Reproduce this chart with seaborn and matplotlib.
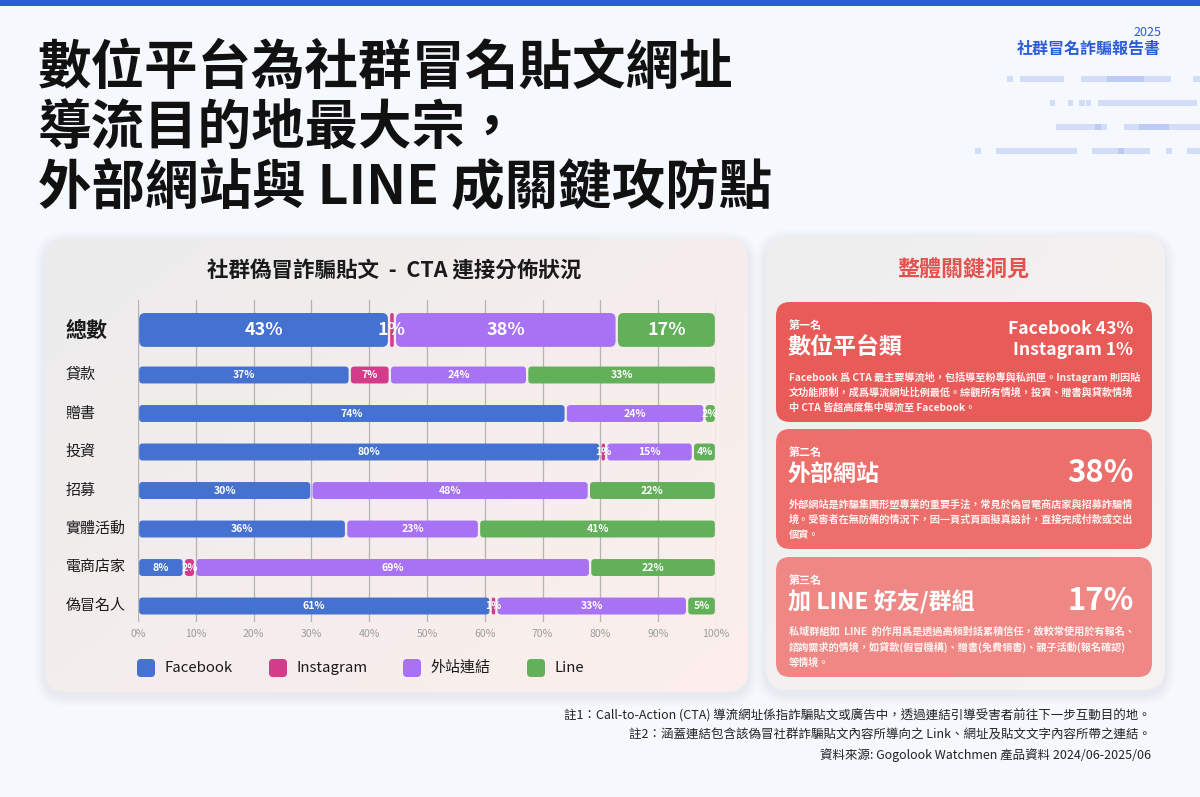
import numpy as np
import pandas as pd
import matplotlib
matplotlib.use("Agg")
import matplotlib.pyplot as plt
import seaborn as sns
from matplotlib.patches import FancyBboxPatch, Rectangle

# ---------------- data ----------------
categories = ["總數", "貸款", "贈書", "投資", "招募", "實體活動", "電商店家", "偽冒名人"]
facebook = [43, 37, 74, 80, 30, 36, 8, 61]
instagram = [1, 7, 0, 1, 0, 0, 2, 1]
external = [38, 24, 24, 15, 48, 23, 69, 33]
line_vals = [17, 33, 2, 4, 22, 41, 22, 5]
series_names = ["Facebook", "Instagram", "外站連結", "Line"]
series_colors = ["#4571d1", "#d33c8a", "#a872f5", "#63b05b"]
x_ticks = [0, 10, 20, 30, 40, 50, 60, 70, 80, 90, 100]
x_tick_labels = [f"{t}%" for t in x_ticks]

title_lines = ["數位平台為社群冒名貼文網址", "導流目的地最大宗，", "外部網站與 LINE 成關鍵攻防點"]
chart_title = "社群偽冒詐騙貼文  -  CTA 連接分佈狀況"
panel_title = "整體關鍵洞見"
cards = [
    dict(rank="第一名", head="數位平台類", right=["Facebook 43%", "Instagram 1%"],
         body=["Facebook 爲 CTA 最主要導流地，包括導至粉專與私訊匣。Instagram 則因貼",
               "文功能限制，成爲導流網址比例最低。綜觀所有情境，投資、贈書與貸款情境",
               "中 CTA 皆超高度集中導流至 Facebook。"]),
    dict(rank="第二名", head="外部網站", right=["38%"],
         body=["外部網站是詐騙集團形塑專業的重要手法，常見於偽冒電商店家與招募詐騙情",
               "境。受害者在無防備的情況下，因一頁式頁面擬真設計，直接完成付款或交出",
               "個資。"]),
    dict(rank="第三名", head="加 LINE 好友/群組", right=["17%"],
         body=["私域群組如  LINE  的作用爲是透過高頻對話累積信任，故較常使用於有報名、",
               "諮詢需求的情境，如貸款(假冒機構)、贈書(免費領書)、親子活動(報名確認)",
               "等情境。"]),
]
card_colors = ["#e95b58", "#ec6f6b", "#ef8884"]
notes = ["註1：Call-to-Action (CTA) 導流網址係指詐騙貼文或廣告中，透過連結引導受害者前往下一步互動目的地。",
         "註2：涵蓋連結包含該偽冒社群詐騙貼文內容所導向之 Link、網址及貼文文字內容所帶之連結。",
         "資料來源: Gogolook Watchmen 產品資料 2024/06-2025/06"]

# ---------------- style ----------------
sns.set_theme(style="white")
plt.rcParams["font.family"] = ["Noto Sans CJK TC", "DejaVu Sans"]

W, H = 1200, 797
fig = plt.figure(figsize=(12, 7.97), dpi=100)
fig.patch.set_facecolor("#f5f8fd")
bg = fig.add_axes([0, 0, 1, 1], zorder=0)
bg.set_xlim(0, W)
bg.set_ylim(H, 0)
bg.axis("off")

def px(v):
    return v / 1.389

# top bar
bg.add_patch(Rectangle((0, 0), W, 6, color="#2a5bd8", lw=0))

# title
for i, t in enumerate(title_lines):
    bg.text(38, 68 + 60 * i, t, fontsize=px(53.5), weight="black", color="#111111",
            ha="left", va="center")

bg.text(1161, 32, "2025", fontsize=px(12.5), color="#2a5bd8", ha="right", va="center")
bg.text(1161, 49, "社群冒名詐騙報告書", fontsize=px(16), color="#2a5bd8", weight="bold",
        ha="right", va="center")

# decorative dashes
dash_rows = {
    79: [(1007, 1013), (1020, 1064), (1081, 1171), (1193, 1200)],
    103: [(1050, 1055), (1068, 1073), (1079, 1085), (1086, 1091), (1098, 1197)],
    127: [(1056, 1107), (1124, 1200)],
    151: [(975, 981), (996, 1077), (1092, 1150), (1166, 1172), (1187, 1200)],
}
dark_dashes = {79: [(1107, 1144)], 127: [(1095, 1101), (1139, 1169)], 151: [(1118, 1124)]}
for y, segs in dash_rows.items():
    for a, b in segs:
        bg.add_patch(Rectangle((a, y - 2.8), b - a, 5.6, color="#d2ddf7", lw=0))
for y, segs in dark_dashes.items():
    for a, b in segs:
        bg.add_patch(Rectangle((a, y - 2.8), b - a, 5.6, color="#bccbf3", lw=0))

# panels with soft shadow and gradient
def panel(x0, y0, x1, y1, c_tl, c_br, r=22):
    for k, a in enumerate([0.025, 0.025, 0.03, 0.035]):
        s = 10 - 2.5 * k
        bg.add_patch(FancyBboxPatch((x0 - s, y0 - s + 4), x1 - x0 + 2 * s, y1 - y0 + 2 * s,
                                    boxstyle=f"round,pad=0,rounding_size={r + s}",
                                    fc="#8a8f9a", ec="none", alpha=a))
    p = FancyBboxPatch((x0, y0), x1 - x0, y1 - y0, boxstyle=f"round,pad=0,rounding_size={r}",
                       fc="none", ec="none")
    bg.add_patch(p)
    nx, ny = 60, 40
    gx, gy = np.meshgrid(np.linspace(0, 1, nx), np.linspace(0, 1, ny))
    t = np.clip(0.55 * gx + 0.45 * gy, 0, 1)[..., None]
    c1 = np.array(matplotlib.colors.to_rgb(c_tl))
    c2 = np.array(matplotlib.colors.to_rgb(c_br))
    img = c1 * (1 - t) + c2 * t
    im = bg.imshow(img, extent=[x0, x1, y1, y0], interpolation="bilinear", zorder=1, aspect="auto")
    im.set_clip_path(p)

panel(45, 238, 748, 692, "#ececec", "#fcefed")
panel(766, 236, 1165, 690, "#eeeeee", "#f8f3f3")
bg.set_xlim(0, W)
bg.set_ylim(H, 0)

# ---------------- chart ----------------
ax = fig.add_axes([138 / W, 1 - 622 / H, 578 / W, 322 / H], zorder=2)
ax.patch.set_alpha(0)

series = [facebook, instagram, external, line_vals]
vals = np.array(series, dtype=float)
totals = vals.sum(axis=0)
shares = vals / totals * 100
cum = np.cumsum(shares, axis=0)

x_px_per_unit = 578 / 100
y_lo, y_hi = 7.415, -0.948
y_px_per_unit = 322 / (y_lo - y_hi)
asp = x_px_per_unit / y_px_per_unit

for k in reversed(range(4)):
    n_before = len(ax.patches)
    df = pd.DataFrame({"cat": categories, "end": cum[k]})
    sns.barplot(data=df, x="end", y="cat", order=categories, color=series_colors[k],
                saturation=1, width=0.44, orient="h", ax=ax)
    new = list(ax.patches[n_before:])
    for p in new:
        cy0 = p.get_y() + p.get_height() / 2
        i = int(round(cy0))
        end = p.get_width()
        start = cum[k - 1][i] if k > 0 else 0.0
        p.remove()
        if vals[k][i] <= 0:
            continue
        if i == 0:
            cy, hh, r, fs = -0.17, 0.88, 1.0, px(18)
        else:
            cy, hh, r, fs = float(i), 0.44, 0.6, px(10.5)
        gap = 0.2
        w = end - start - 2 * gap
        re = min(r, w / 2)
        ax.add_patch(FancyBboxPatch((start + gap, cy - hh / 2), w, hh,
                                    boxstyle=f"round,pad=0,rounding_size={re}",
                                    mutation_aspect=asp, fc=series_colors[k], ec="none",
                                    zorder=3))
        ax.text((start + end) / 2, cy, f"{int(vals[k][i])}%", ha="center", va="center",
                color="white", fontsize=fs, weight="bold", zorder=4)

ax.set_xlim(0, 100)
ax.set_ylim(y_lo, y_hi)
ax.set_xticks(x_ticks, x_tick_labels)
ax.set_yticks([])
ax.set_xlabel("")
ax.set_ylabel("")
ax.tick_params(axis="x", length=0, pad=5, labelsize=px(10.5), labelcolor="#9c9c9c")
ax.grid(axis="x", color="#b4b4b4", lw=0.9)
ax.set_axisbelow(True)
for s in ax.spines.values():
    s.set_visible(False)

for i, c in enumerate(categories):
    if i == 0:
        ax.text(-0.125, -0.17, c, transform=ax.get_yaxis_transform(), ha="left", va="center",
                fontsize=px(21), weight="bold", color="#1a1a1a")
    else:
        ax.text(-0.125, i, c, transform=ax.get_yaxis_transform(), ha="left", va="center",
                fontsize=px(15), color="#1a1a1a")

bg.text(394, 271, chart_title, fontsize=px(21.5), weight="bold", color="#1a1a1a",
        ha="center", va="center", zorder=5)

# legend
leg_sq = [137, 269, 403, 527]
for x0, name, col in zip(leg_sq, series_names, series_colors):
    bg.add_patch(FancyBboxPatch((x0, 659), 18, 18, boxstyle="round,pad=0,rounding_size=4",
                                fc=col, ec="none", zorder=5))
    bg.text(x0 + 27, 668, name, fontsize=px(15), color="#1a1a1a", ha="left", va="center", zorder=5)

# ---------------- insight panel ----------------
bg.text(963, 270, panel_title, fontsize=px(22), weight="bold", color="#e25350",
        ha="center", va="center", zorder=5)

card_tops = [302, 429, 557]
for ct, card, col in zip(card_tops, cards, card_colors):
    bg.add_patch(FancyBboxPatch((776, ct), 376, 120, boxstyle="round,pad=0,rounding_size=14",
                                fc=col, ec="none", zorder=5))
    bg.text(789, ct + 24, card["rank"], fontsize=px(11), weight="bold", color="white",
            ha="left", va="center", zorder=6)
    bg.text(788, ct + 45, card["head"], fontsize=px(23), weight="bold", color="white",
            ha="left", va="center", zorder=6)
    if len(card["right"]) == 2:
        bg.text(1133, ct + 27, card["right"][0], fontsize=px(17.5), weight="bold", color="white",
                ha="right", va="center", zorder=6)
        bg.text(1133, ct + 48, card["right"][1], fontsize=px(17.5), weight="bold", color="white",
                ha="right", va="center", zorder=6)
    else:
        bg.text(1134, ct + 44, card["right"][0], fontsize=px(31), weight="bold", color="white",
                ha="right", va="center", zorder=6)
    for j, ln in enumerate(card["body"]):
        bg.text(789, ct + 75 + 15.5 * j, ln, fontsize=px(10.2), weight="bold", color="#fff4f3",
                ha="left", va="center", zorder=6)

# footnotes
for j, n in enumerate(notes):
    bg.text(1151, 716 + 19.5 * j, n, fontsize=px(12.5), color="#222222", ha="right",
            va="center", zorder=5)

fig.savefig("out.png", dpi=100, facecolor=fig.get_facecolor())
